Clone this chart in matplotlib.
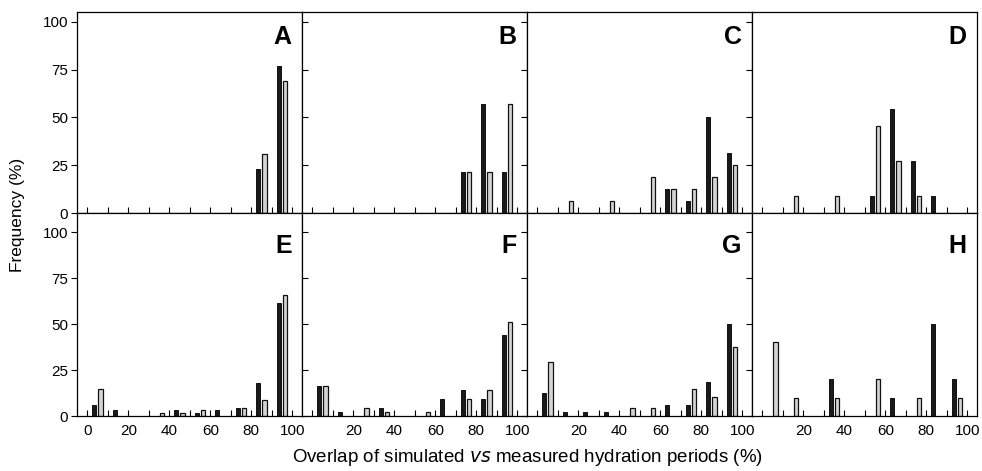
import numpy as np
import matplotlib
matplotlib.use('Agg')
import matplotlib.pyplot as plt

plt.rcParams['font.family'] = ['Liberation Sans', 'DejaVu Sans']

bins = [0, 10, 20, 30, 40, 50, 60, 70, 80, 90]
letters = ['A', 'B', 'C', 'D', 'E', 'F', 'G', 'H']

A_dark = [0, 0, 0, 0, 0, 0, 0, 0, 23, 77]
A_light = [0, 0, 0, 0, 0, 0, 0, 0, 31, 69]
B_dark = [0, 0, 0, 0, 0, 0, 0, 21.4, 57.1, 21.4]
B_light = [0, 0, 0, 0, 0, 0, 0, 21.4, 21.4, 57.1]
C_dark = [0, 0, 0, 0, 0, 0, 12.5, 6.25, 50, 31.25]
C_light = [0, 6.25, 0, 6.25, 0, 18.75, 12.5, 12.5, 18.75, 25]
D_dark = [0, 0, 0, 0, 0, 9.1, 54.5, 27.3, 9.1, 0]
D_light = [0, 9.1, 0, 9.1, 0, 45.5, 27.3, 9.1, 0, 0]
E_dark = [6.0, 3.1, 0, 0, 3.1, 1.6, 3.1, 4.6, 17.7, 61.7]
E_light = [14.6, 0, 0, 1.6, 1.6, 3.1, 0, 4.6, 8.9, 66.0]
F_dark = [16.5, 2.4, 0, 4.5, 0, 0, 9.2, 13.9, 9.2, 44.1]
F_light = [16.5, 0, 4.5, 2.4, 0, 2.4, 0, 9.2, 13.9, 51.0]
G_dark = [12.5, 2.1, 2.1, 2.1, 0, 0, 6.25, 6.25, 18.75, 50]
G_light = [29.2, 0, 0, 0, 4.2, 4.2, 0, 14.6, 10.4, 37.5]
H_dark = [0, 0, 0, 20, 0, 0, 10, 0, 50, 20]
H_light = [40, 10, 0, 10, 0, 20, 0, 10, 0, 10]

dark = [A_dark, B_dark, C_dark, D_dark, E_dark, F_dark, G_dark, H_dark]
light = [A_light, B_light, C_light, D_light, E_light, F_light, G_light, H_light]

fig = plt.figure(figsize=(9.82, 4.71), dpi=100)

left = 77 / 982
w = 225 / 982
rows = [(1 - 213.3 / 471, (213.3 - 11.7) / 471, 105.2),
        (1 - 416 / 471, (416 - 213.3) / 471, 110.3)]

x = np.array(bins)
for i in range(8):
    r, c = divmod(i, 4)
    bottom, h, ytop = rows[r]
    ax = fig.add_axes([left + c * w, bottom, w, h])
    d = np.array(dark[i], dtype=float)
    l = np.array(light[i], dtype=float)
    m = d > 0
    ax.bar(x[m] + 3.4, d[m], width=2.1, color='#1a1a1a', edgecolor='#111111', lw=0.7)
    m = l > 0
    ax.bar(x[m] + 6.4, l[m], width=2.1, color='#d4d4d4', edgecolor='#111111', lw=0.9)

    ax.set_xlim(-5, 104.7)
    ax.set_ylim(0, ytop)
    ax.set_xticks(np.arange(0, 101, 10))
    if r == 1:
        labs = [str(v) if v % 20 == 0 else '' for v in range(0, 101, 10)]
        if c > 0:
            labs[0] = ''
        ax.set_xticklabels(labs)
    else:
        ax.set_xticklabels([])
    ax.tick_params(axis='x', direction='in', length=4, width=0.8, pad=6, labelsize=11)

    ax.set_yticks([0, 25, 50, 75, 100])
    if c == 0:
        ax.tick_params(axis='y', direction='out', length=4, width=0.8, pad=2.5, labelsize=11)
    elif c == 1:
        ax.set_yticklabels([])
        ax.tick_params(axis='y', direction='in', length=4, width=0.8)
    else:
        ax.set_yticklabels([])
        ax.tick_params(axis='y', direction='out', length=4, width=0.8)

    for s in ax.spines.values():
        s.set_linewidth(0.9)
    ax.text(99.6, 88.5, letters[i], ha='right', va='baseline',
            fontsize=18, fontweight='bold')

fig.text(0.5 * (77 + 977) / 982, 1 - 458 / 471,
         'Overlap of simulated $\\mathit{vs}$ measured hydration periods (%)',
         ha='center', va='center', fontsize=13.5)
fig.text(18 / 982, 1 - 215 / 471, 'Frequency (%)', rotation=90,
         ha='center', va='center', fontsize=12.5)

fig.savefig('out.png', dpi=100)
